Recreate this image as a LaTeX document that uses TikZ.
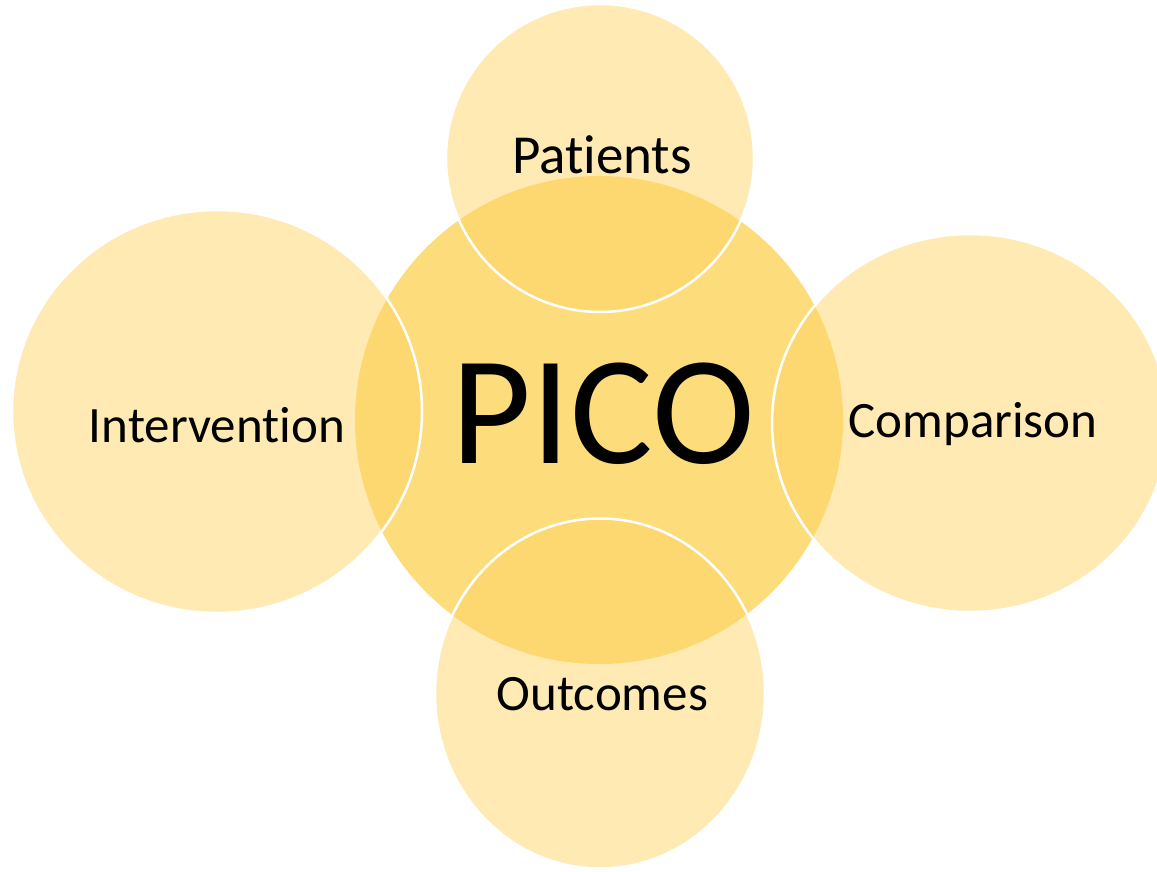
\documentclass[tikz,border=0pt]{standalone}
\usepackage{fontspec}
\setmainfont{Carlito}[Ligatures=NoCommon]
\definecolor{outerfill}{RGB}{253,213,101}
\definecolor{centerfill}{RGB}{253,220,124}
\tikzset{
  x=1pt, y=-1pt,
  centerdisc/.style={fill=centerfill, draw=none},
  outerdisc/.style={fill=outerfill, fill opacity=0.5, draw=white, line width=2.5pt},
  lbl/.style={anchor=base, inner sep=0pt, text=black, font=\fontsize{51}{55}\selectfont},
  biglbl/.style={anchor=base, inner sep=0pt, text=black, font=\fontsize{155}{160}\selectfont}
}
\begin{document}
\begin{tikzpicture}
\useasboundingbox (0,0) rectangle (1157,871);
\begin{scope}
\clip (0,0) rectangle (1157,871);
\fill[centerdisc] (599,420) circle[radius=244];
\path[outerdisc] (600,158) ellipse[x radius=154, y radius=154];
\path[outerdisc] (217,411.5) ellipse[x radius=205, y radius=201.5];
\path[outerdisc] (970,423) ellipse[x radius=198, y radius=189];
\path[outerdisc] (600,693.5) ellipse[x radius=165, y radius=175];
\end{scope}
\node[biglbl] (pico) at (603,463) {PICO};
\node[lbl, font=\fontsize{55}{60}\selectfont] (patients) at (602,173) {Patients};
\node[lbl] (intervention) at (217,442) {Intervention};
\node[lbl] (comparison) at (973,437) {Comparison};
\node[lbl] (outcomes) at (602.5,710) {Outcomes};
\end{tikzpicture}
\end{document}
